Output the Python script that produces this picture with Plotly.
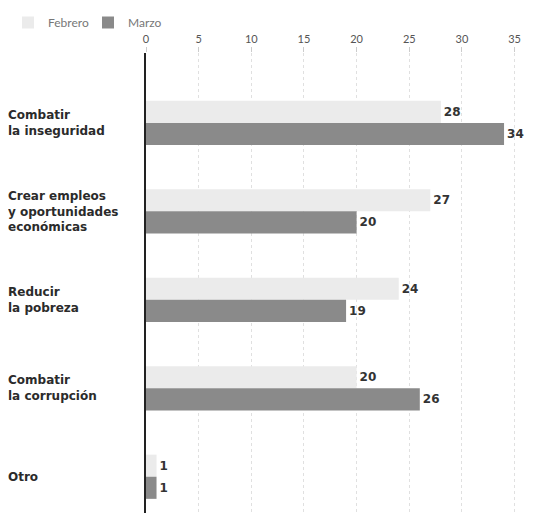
import plotly.graph_objects as go

categorias = ["Combatir<br>la inseguridad",
              "Crear empleos<br>y oportunidades<br>económicas",
              "Reducir<br>la pobreza",
              "Combatir<br>la corrupción",
              "Otro"]
febrero = [28, 27, 24, 20, 1]
marzo = [34, 20, 19, 26, 1]
ticks = [0, 5, 10, 15, 20, 25, 30, 35]

# page body adds an ~8px margin on each side; size the figure to fit the window
W, H = 519, 507
L, R, T, B = 138, 4, 45, 2
pos = list(range(len(categorias)))

valfont = dict(family="DejaVu Sans", size=12, color="#333333", weight="bold")

fig = go.Figure()
fig.add_trace(go.Bar(
    name="Febrero", y=pos, x=febrero, orientation="h",
    marker=dict(color="#ebebeb", line=dict(width=0)),
    text=febrero, textposition="outside", cliponaxis=False,
    textfont=valfont,
))
fig.add_trace(go.Bar(
    name="Marzo", y=pos, x=marzo, orientation="h",
    marker=dict(color="#8a8a8a", line=dict(width=0)),
    text=marzo, textposition="outside", cliponaxis=False,
    textfont=valfont,
))

pw = W - L - R
for i, c in enumerate(categorias):
    fig.add_annotation(
        x=(-2 - L) / pw, xref="paper", y=i, yref="y",
        text=c, showarrow=False, xanchor="left", align="left",
        font=dict(family="DejaVu Sans", size=12, color="#2b2b2b", weight="bold"),
    )

fig.update_layout(
    width=W, height=H, margin=dict(l=L, r=R, t=T, b=B, autoexpand=False),
    paper_bgcolor="white", plot_bgcolor="white",
    barmode="group", bargap=0.5, bargroupgap=0.0,
    showlegend=True,
    legend=dict(orientation="h", x=0.0, xref="container", y=1.0, yref="container",
                xanchor="left", yanchor="top", bgcolor="rgba(0,0,0,0)",
                font=dict(family="Lato", size=12, color="#777777"),
                traceorder="normal", itemwidth=30,
                entrywidth=35, entrywidthmode="pixels"),
    font=dict(family="Lato"),
)
fig.update_xaxes(
    side="top", range=[0, 35.8], tickvals=ticks,
    ticks="outside", ticklen=5, tickcolor="#cccccc",
    tickfont=dict(family="Lato", size=11, color="#555555"),
    showgrid=True, gridcolor="#e0e0e0", griddash="dot", gridwidth=1,
    zeroline=False, showline=False,
)
fig.update_yaxes(
    range=[4.41, -0.79], showticklabels=False, showgrid=False, zeroline=False,
    showline=True, linecolor="#222222", linewidth=1.5,
)
fig.write_html("out.html")
